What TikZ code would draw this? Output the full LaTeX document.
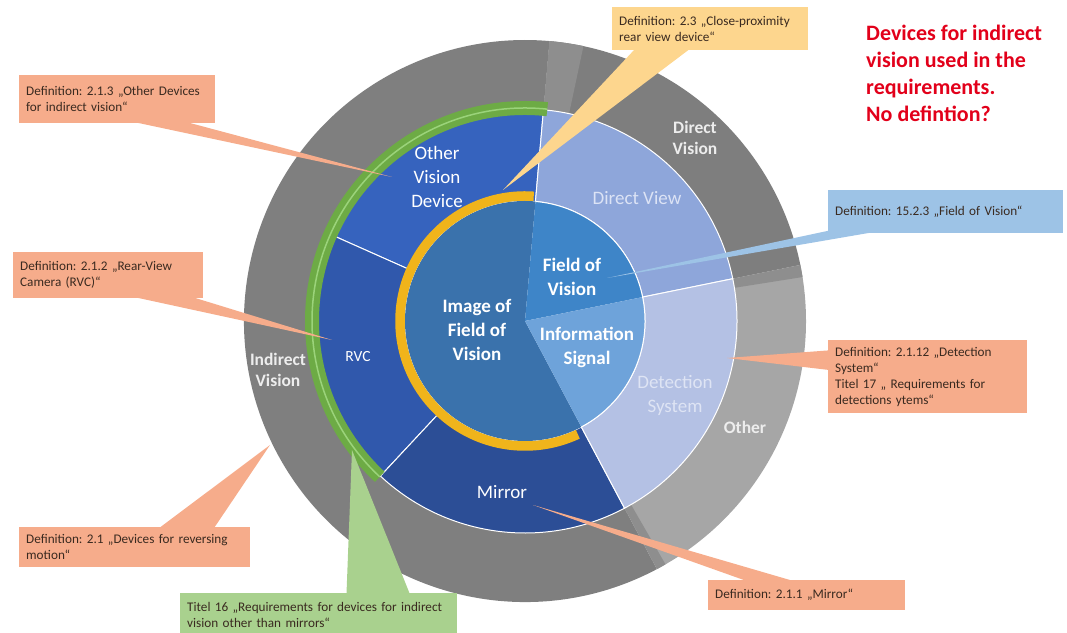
\documentclass[tikz,border=0pt]{standalone}
\usepackage{fontspec}
\setmainfont{Carlito}
\usetikzlibrary{calc}
\frenchspacing

\definecolor{greyind}{HTML}{7F7F7F}
\definecolor{greydir}{HTML}{7E7E7E}
\definecolor{greyoth}{HTML}{A6A6A6}
\definecolor{greyshade}{HTML}{8E8E8E}
\definecolor{greytext}{HTML}{EDEDED}
\definecolor{bluedev}{HTML}{3663BE}
\definecolor{bluervc}{HTML}{3058AC}
\definecolor{bluemir}{HTML}{2C4E96}
\definecolor{bluedview}{HTML}{8EA6DA}
\definecolor{bluedet}{HTML}{B4C1E4}
\definecolor{blueimg}{HTML}{3A72AC}
\definecolor{bluefov}{HTML}{3E85C8}
\definecolor{blueinfo}{HTML}{6EA3DA}
\definecolor{dviewtext}{HTML}{DCE3F5}
\definecolor{dettext}{HTML}{DEE4F4}
\definecolor{greenreq}{HTML}{6DAB45}
\definecolor{greenlite}{HTML}{9BD37A}
\definecolor{goldring}{HTML}{F0B41B}
\definecolor{calorange}{HTML}{F6AC8B}
\definecolor{calyellow}{HTML}{FDD68E}
\definecolor{calblue}{HTML}{9DC3E6}
\definecolor{calgreen}{HTML}{A9D18E}
\definecolor{deftext}{HTML}{3A2A20}
\definecolor{notered}{HTML}{E2001A}

% annular piece: style, start angle, end angle, inner radius, outer radius
\newcommand{\ringseg}[5]{%
  \path[#1] (#2:#4) arc[start angle=#2, end angle=#3, radius=#4]
    -- (#3:#5) arc[start angle=#3, end angle=#2, radius=#5] -- cycle;}

\begin{document}
\begin{tikzpicture}[x=1pt,y=1pt,
        every node/.style={inner sep=0pt},
        segline/.style={draw=white,line width=1pt},
        ringlabel/.style={text=white,align=center,font=\fontsize{19}{24}\selectfont},
        ringbold/.style={ringlabel,font=\fontsize{19}{24}\selectfont\bfseries},
        outerlabel/.style={text=greytext,align=center,font=\fontsize{17.5}{21}\selectfont\bfseries},
        defbox/.style={anchor=north west,align=left,text=deftext,inner xsep=7pt,inner ysep=4pt,
            font=\fontsize{13.2}{16}\selectfont},
        orangebox/.style={defbox,fill=calorange},
        yellowbox/.style={defbox,fill=calyellow},
        bluebox/.style={defbox,fill=calblue},
        greenbox/.style={defbox,fill=calgreen}]
    \useasboundingbox (0,0) rectangle (1067,632);
    \begin{scope}[shift={(525,311)}]
        % Outer ring
        \ringseg{fill=greyind}{85}{298}{212}{281}
        \ringseg{fill=greydir}{11.5}{85}{212}{281}
        \ringseg{fill=greyshade}{78}{85}{212}{281}
        \ringseg{fill=greyoth}{-62}{11.5}{212}{281}
        \ringseg{fill=greyshade}{9}{11.5}{212}{281}
        \ringseg{fill=greyshade}{-62}{-60}{212}{281}
        % Middle ring
        \ringseg{fill=bluedev,segline}{85}{156}{120}{212}
        \ringseg{fill=bluervc,segline}{156}{227}{120}{212}
        \ringseg{fill=bluemir,segline}{227}{298}{120}{212}
        \ringseg{fill=bluedview,segline}{11.5}{85}{120}{212}
        \ringseg{fill=bluedet,segline}{-62}{11.5}{120}{212}
        % Inner pie
        \fill[blueimg] (0,0) -- (85:120) arc[start angle=85,end angle=298,radius=120] -- cycle;
        \fill[bluefov] (0,0) -- (11.5:120) arc[start angle=11.5,end angle=85,radius=120] -- cycle;
        \fill[blueinfo] (0,0) -- (-62:120) arc[start angle=-62,end angle=11.5,radius=120] -- cycle;
        \draw[white,line width=1pt] (-62:120) arc[start angle=-62,end angle=85,radius=120];
        % Green band and gold ring
        \ringseg{fill=greenreq}{84}{227}{206}{220}
        \draw[greenlite,line width=1.5pt] (84:213) arc[start angle=84,end angle=227,radius=213];
        \draw[goldring,line width=9.5pt] (86:125) arc[start angle=86,end angle=295,radius=125];
    \end{scope}

    % Ring labels
    \node[ringlabel] (ovd) at (437,455) {Other\\Vision\\Device};
    \node[ringlabel,font=\fontsize{15.5}{18}\selectfont] (rvc) at (358,275) {RVC};
    \node[ringlabel] (mirror) at (502,140) {Mirror};
    \node[ringbold] (img) at (477,302) {Image of\\Field of\\Vision};
    \node[ringbold] (fov) at (572,355) {Field of\\Vision};
    \node[ringbold] (info) at (587,285) {Information\\Signal};
    \node[ringlabel,text=dviewtext] (dview) at (637,434) {Direct View};
    \node[ringlabel,text=dettext] (detsys) at (675,237) {Detection\\System};
    \node[outerlabel] (dvision) at (695,494) {Direct\\Vision};
    \node[outerlabel] (ivision) at (278,262) {Indirect\\Vision};
    \node[outerlabel] (other) at (745,205) {Other};

    % Callouts left
    \node[orangebox,text width=182pt,minimum height=48pt] (d213) at (19,557)
        {Definition: 2.1.3 „Other Devices\\for indirect vision“};
    \coordinate (d213tip) at (392,455);
    \fill[calorange] ($(d213.south west)!0.57!(d213.south east)+(0,2)$) -- (d213tip)
        -- ($(d213.south west)!0.84!(d213.south east)+(0,2)$) -- cycle;
    \node[orangebox,text width=176pt,minimum height=46pt] (d212) at (13,380)
        {Definition: 2.1.2 „Rear-View\\Camera (RVC)“};
    \coordinate (d212tip) at (332,292);
    \fill[calorange] ($(d212.south west)!0.62!(d212.south east)+(0,2)$) -- (d212tip)
        -- ($(d212.south west)!0.93!(d212.south east)+(0,2)$) -- cycle;
    \node[orangebox,text width=217pt,minimum height=40pt] (d21) at (19,105)
        {Definition: 2.1 „Devices for reversing\\motion“};
    \coordinate (d21tip) at (270,187);
    \fill[calorange] ($(d21.north west)!0.60!(d21.north east)+(0,-2)$) -- (d21tip)
        -- ($(d21.north west)!0.84!(d21.north east)+(0,-2)$) -- cycle;
    \node[greenbox,text width=263pt,minimum height=44pt] (t16) at (180,39)
        {Titel 16 „Requirements for devices for indirect\\vision other than mirrors“};
    \coordinate (t16tip) at (352,182);
    \fill[calgreen] ($(t16.north west)!0.60!(t16.north east)+(0,-2)$) -- (t16tip)
        -- ($(t16.north west)!0.83!(t16.north east)+(0,-2)$) -- cycle;

    % Callouts right
    \node[yellowbox,text width=182pt,minimum height=43pt] (d23) at (612,625)
        {Definition: 2.3 „Close-proximity\\rear view device“};
    \coordinate (d23tip) at (503,442);
    \fill[calyellow] ($(d23.south west)!0.12!(d23.south east)+(0,2)$) -- (d23tip)
        -- ($(d23.south west)!0.40!(d23.south east)+(0,2)$) -- cycle;
    \node[bluebox,text width=221pt,minimum height=43pt] (d1523) at (828,442)
        {Definition: 15.2.3 „Field of Vision“};
    \coordinate (d1523tip) at (607,354);
    \fill[calblue] ($(d1523.south west)+(2,3)$) -- (d1523tip)
        -- ($(d1523.south west)+(44,1)$) -- cycle;
    \node[orangebox,text width=185pt,minimum height=73pt] (d2112) at (828,292)
        {Definition: 2.1.12 „Detection\\System“\\Titel 17 „ Requirements for\\detections ytems“};
    \coordinate (d2112tip) at (727,274);
    \fill[calorange] ($(d2112.south west)!0.59!(d2112.north west)+(2,0)$) -- (d2112tip)
        -- ($(d2112.south west)!0.86!(d2112.north west)+(2,0)$) -- cycle;
    \node[orangebox,text width=183pt,minimum height=30pt] (d211) at (708,52)
        {Definition: 2.1.1 „Mirror“};
    \coordinate (d211tip) at (533,127);
    \fill[calorange] ($(d211.north west)!0.21!(d211.north east)+(0,-2)$) -- (d211tip)
        -- ($(d211.north west)!0.45!(d211.north east)+(0,-2)$) -- cycle;

    % Note
    \node[anchor=north west,align=left,text=notered,font=\fontsize{22}{27}\selectfont\bfseries]
        (note) at (866,607) {Devices for indirect\\vision used in the\\requirements.\\No defintion?};
\end{tikzpicture}
\end{document}
